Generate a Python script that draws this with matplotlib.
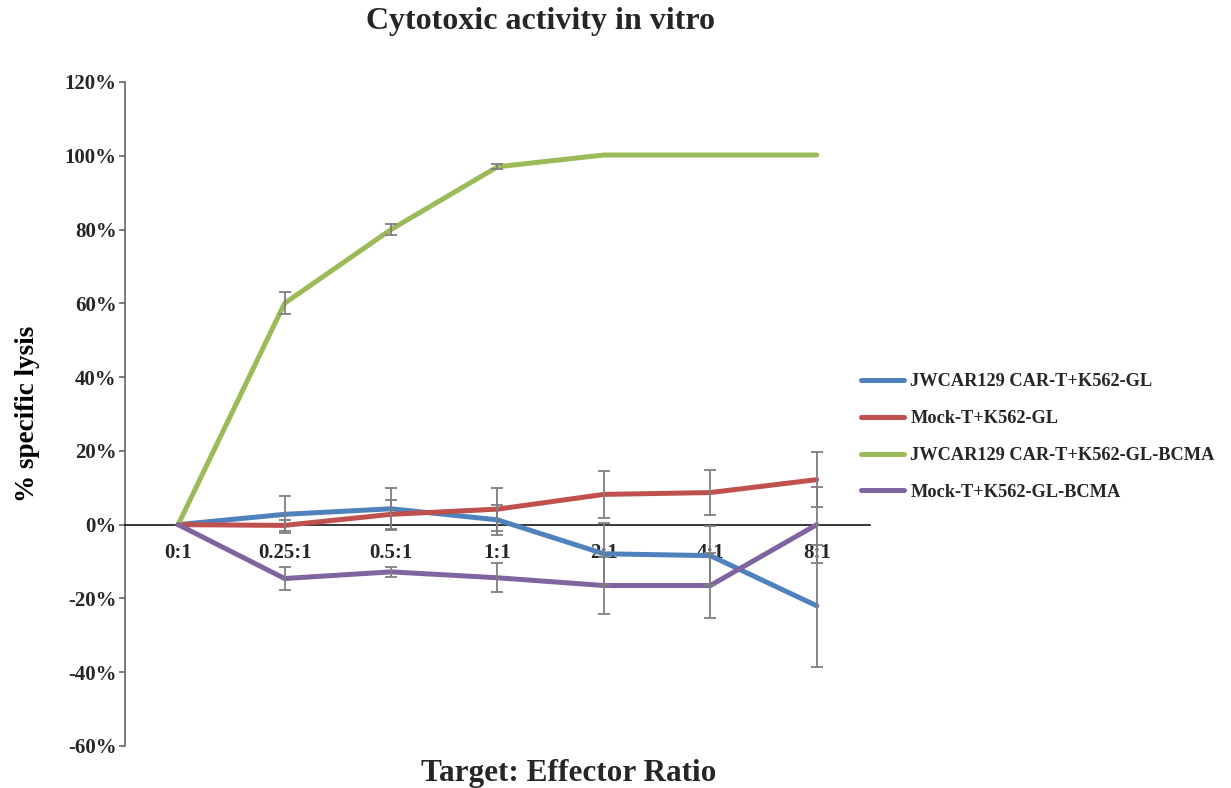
import matplotlib
matplotlib.use("Agg")
import matplotlib.pyplot as plt
import numpy as np

# ---------------------------------------------------------------
# Data
# ---------------------------------------------------------------
ratios = ["0:1", "0.25:1", "0.5:1", "1:1", "2:1", "4:1", "8:1"]

series_names = [
    "JWCAR129 CAR-T+K562-GL",
    "Mock-T+K562-GL",
    "JWCAR129 CAR-T+K562-GL-BCMA",
    "Mock-T+K562-GL-BCMA",
]

car_gl = [0, 2.8, 4.3, 1.3, -7.9, -8.4, -22.0]
car_gl_err = [0, 5.0, 5.7, 4.0, 8.4, 8.0, 16.5]

mock_gl = [0, -0.2, 2.8, 4.2, 8.2, 8.7, 12.2]
mock_gl_err = [0, 1.5, 4.0, 5.8, 6.4, 6.0, 7.5]

car_bcma = [0, 60.0, 80.0, 97.0, 100.2, 100.2, 100.2]
car_bcma_err = [0, 3.0, 1.5, 0.7, 0, 0, 0]

mock_bcma = [0, -14.6, -12.8, -14.4, -16.5, -16.5, 0]
mock_bcma_err = [0, 3.2, 1.3, 3.9, 7.6, 8.7, 10.3]

colors = ["#4F81BD", "#C0504D", "#9BBB59", "#8064A2"]
ERR = "#7F7F7F"
DARK = "#262626"

plt.rcParams.update({
    "font.family": ["Liberation Serif", "DejaVu Serif"],
    "font.weight": "bold",
    "text.color": DARK,
    "xtick.color": DARK,
    "ytick.color": DARK,
})

fig = plt.figure(figsize=(12.31, 7.88), dpi=100)
ax = fig.add_axes([0.1015, 0.0533, 0.6052, 0.8427])

x = np.arange(len(ratios))
all_vals = [car_gl, mock_gl, car_bcma, mock_bcma]
all_errs = [car_gl_err, mock_gl_err, car_bcma_err, mock_bcma_err]

for vals, errs, c, name in zip(all_vals, all_errs, colors, series_names):
    ax.plot(x, vals, color=c, linewidth=3.6, solid_capstyle="round",
            solid_joinstyle="round", label=name, zorder=3)
    e = np.array(errs)
    m = e > 0
    ax.errorbar(x[m], np.array(vals)[m], yerr=e[m], fmt="none", ecolor=ERR,
                elinewidth=1.3, capsize=4.5, capthick=1.3, zorder=4)

# spine position first (moving it resets tick styling)
for s in ["top", "right"]:
    ax.spines[s].set_visible(False)
ax.spines["bottom"].set_position(("data", 0))
ax.spines["bottom"].set_color("black")
ax.spines["bottom"].set_linewidth(1.1)
ax.spines["left"].set_color("#595959")
ax.spines["left"].set_linewidth(1.1)

ax.set_xlim(-0.5, 6.5)
ax.set_ylim(-60, 120)
ax.set_yticks(np.arange(-60, 121, 20))
ax.set_yticklabels([f"{v}%" for v in range(-60, 121, 20)], fontsize=15, fontweight="bold")
ax.set_xticks(x)
ax.set_xticklabels(ratios, fontsize=15, fontweight="bold")
ax.tick_params(axis="x", length=0, pad=13.5)
ax.tick_params(axis="y", direction="out", length=4, width=1.1, color="#595959", pad=2)

ax.set_ylabel("% specific lysis", fontsize=19.5, fontweight="bold", labelpad=18)
fig.text(0.462, 0.019, "Target: Effector Ratio", ha="center", va="center",
         fontsize=22.5, fontweight="bold")
fig.text(0.439, 0.973, "Cytotoxic activity in vitro", ha="center", va="center",
         fontsize=23, fontweight="bold")

fig.legend(loc="upper left", bbox_to_anchor=(0.686, 0.547), frameon=False,
           prop={"family": "Liberation Serif", "weight": "bold", "size": 13.2},
           handlelength=2.35, handletextpad=0.35, labelspacing=1.08)

fig.savefig("out.png", dpi=100, facecolor="white")
